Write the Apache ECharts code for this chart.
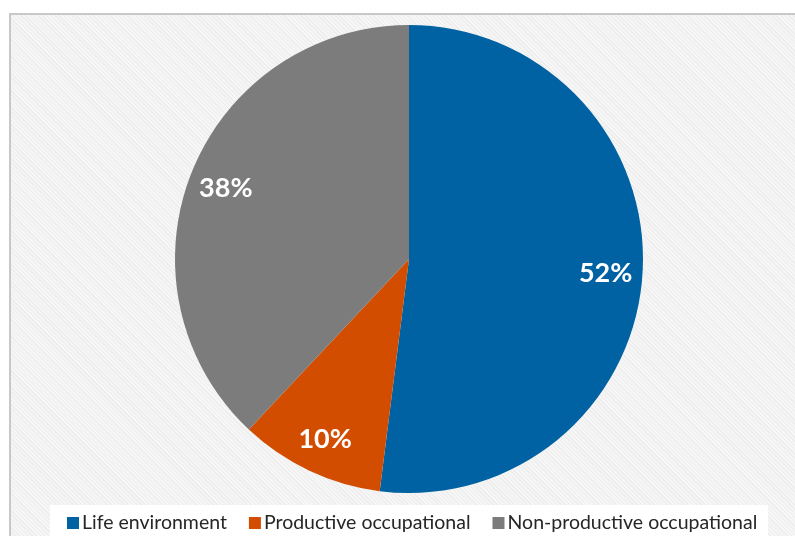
<!DOCTYPE html>
<html>
<head>
<meta charset="utf-8">
<script src="https://cdn.jsdelivr.net/npm/echarts@6/dist/echarts.min.js"></script>
<style>
  html, body { margin: 0; padding: 0; background: #ffffff; }
  #frame {
    position: absolute; left: 9px; top: 13px; width: 800px; height: 540px;
    border-left: 2px solid #c8c8c8; border-top: 2px solid #c8c8c8;
    background-color: #f2f2f2;
    background-image: repeating-linear-gradient(45deg, #f7f7f7 0px, #f7f7f7 1px, #ededed 1px, #ededed 2px, #f4f4f4 2px, #f4f4f4 3px);
  }
  #chart { position: absolute; left: 0; top: 0; width: 795px; height: 536px; }
</style>
</head>
<body>
<div id="frame"></div>
<div id="chart"></div>
<script>
const categories = ['Life environment', 'Productive occupational', 'Non-productive occupational'];
const values = [52, 10, 38];
const colors = ['#0062a2', '#d34d00', '#7c7c7c'];

const data = categories.map((name, i) => ({ name: name, value: values[i], itemStyle: { color: colors[i] } }));

const chart = echarts.init(document.getElementById('chart'), null, { renderer: 'canvas' });
chart.setOption({
  backgroundColor: 'transparent',
  animation: false,
  graphic: [{
    type: 'rect', left: 50, top: 505, shape: { width: 718, height: 40 },
    style: { fill: '#ffffff' }, z: -1
  }],
  legend: {
    left: 62, top: 508,
    itemWidth: 12, itemHeight: 12, itemGap: 22,
    icon: 'rect',
    textStyle: { fontFamily: 'Lato', fontSize: 19.5, color: '#262626', padding: [0, 0, 0, -2] },
    data: categories
  },
  series: [{
    type: 'pie',
    center: [409, 259],
    radius: [0, 234],
    startAngle: 90,
    clockwise: true,
    silent: true,
    label: { show: false },
    labelLine: { show: false },
    data: data
  }, {
    type: 'pie',
    center: [409, 261],
    radius: [154, 234],
    startAngle: 90,
    clockwise: true,
    silent: true,
    itemStyle: { color: 'transparent' },
    label: {
      show: true, position: 'inside',
      formatter: '{c}%',
      fontFamily: 'Lato', fontWeight: 'bold', fontSize: 27, color: '#ffffff'
    },
    labelLine: { show: false },
    data: categories.map((name, i) => ({ name: name, value: values[i], itemStyle: { color: 'rgba(0,0,0,0)' } }))
  }]
});
</script>
</body>
</html>
